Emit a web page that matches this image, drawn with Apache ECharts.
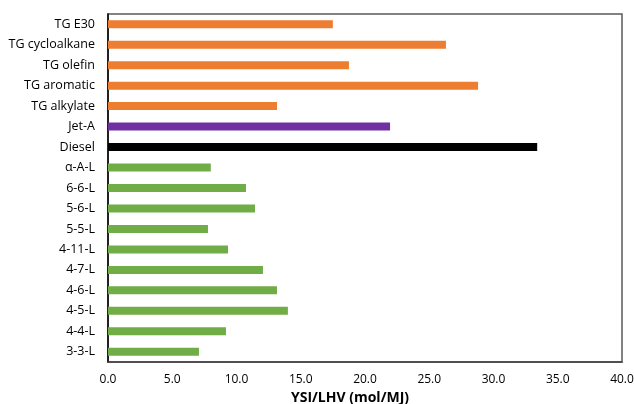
<!DOCTYPE html>
<html>
<head>
<meta charset="utf-8">
<script src="https://cdn.jsdelivr.net/npm/echarts@6/dist/echarts.min.js"></script>
<style>
  html, body { margin: 0; padding: 0; background: #fff; }
  #chart { width: 634px; height: 404px; }
</style>
</head>
<body>
<div id="chart"></div>
<script>
// top to bottom, as in the picture
const categories = ['TG E30', 'TG cycloalkane', 'TG olefin', 'TG aromatic', 'TG alkylate',
  'Jet-A', 'Diesel', 'α-A-L', '6-6-L', '5-6-L', '5-5-L', '4-11-L', '4-7-L', '4-6-L',
  '4-5-L', '4-4-L', '3-3-L']
const values = [17.5, 26.3, 18.75, 28.8, 13.15, 21.95, 33.4, 8.0, 10.74, 11.44, 7.78,
  9.34, 12.06, 13.15, 14.0, 9.18, 7.08]
const groups = ['TG', 'TG', 'TG', 'TG', 'TG', 'jet', 'diesel', 'L', 'L', 'L', 'L',
  'L', 'L', 'L', 'L', 'L', 'L']
const xTicks = [0, 5, 10, 15, 20, 25, 30, 35, 40]

const groupColor = { TG: '#ED7D31', jet: '#7030A0', diesel: '#000000', L: '#70AD47' }
const font = 'Open Sans'

let mychart = echarts.init(document.getElementById('chart'))
let option = {
  animation: false,
  grid: {
    left: 108,
    right: 12,
    top: 14,
    bottom: 42,
    outerBoundsMode: 'none',
    show: true,
    borderColor: '#595959',
    borderWidth: 1.5,
  },
  xAxis: {
    type: 'value',
    min: xTicks[0],
    max: xTicks[xTicks.length - 1],
    interval: xTicks[1] - xTicks[0],
    splitLine: { show: false },
    axisTick: { show: false },
    axisLine: { show: true, lineStyle: { color: '#404040', width: 1.5 } },
    axisLabel: {
      color: '#000',
      fontFamily: font,
      fontSize: 12,
      margin: 12,
      formatter: (v) => v.toFixed(1),
    },
    name: 'YSI/LHV (mol/MJ)',
    nameLocation: 'middle',
    nameGap: 28,
    nameTextStyle: {
      color: '#000',
      fontFamily: font,
      fontSize: 14,
      fontWeight: 'bold',
      padding: [0, 30, 0, 0],
    },
  },
  yAxis: {
    type: 'category',
    inverse: true,
    data: categories,
    axisTick: { show: false },
    axisLine: { show: true, lineStyle: { color: '#000', width: 1.5 } },
    axisLabel: {
      color: '#000',
      fontFamily: font,
      fontSize: 12.5,
      margin: 13,
      interval: 0,
    },
  },
  series: [
    {
      type: 'bar',
      barWidth: 8,
      data: values.map((v, i) => ({
        value: v,
        itemStyle: { color: groupColor[groups[i]] },
      })),
    },
  ],
}
mychart.setOption(option)
</script>
</body>
</html>
